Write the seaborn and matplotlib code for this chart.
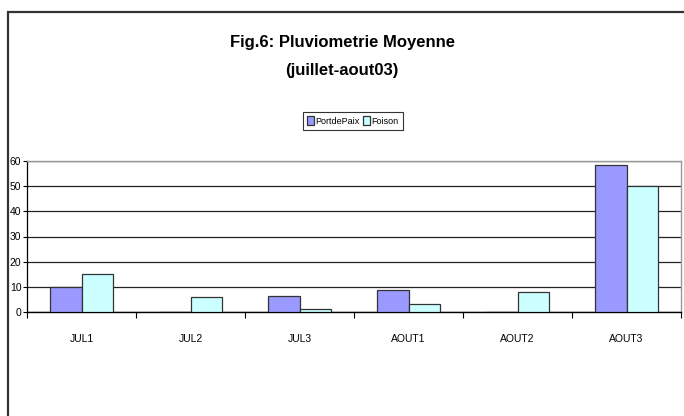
import numpy as np
import pandas as pd
import matplotlib
matplotlib.use("Agg")
import matplotlib.pyplot as plt
import seaborn as sns
from matplotlib.patches import Rectangle

# data
periods = ["JUL1", "JUL2", "JUL3", "AOUT1", "AOUT2", "AOUT3"]
portdepaix = [10.0, 0.0, 6.3, 8.8, 0.0, 58.4]
foison = [15.1, 5.8, 1.2, 3.2, 7.8, 50.0]
series_names = ["PortdePaix", "Foison"]
series_colors = ["#9999FF", "#CCFFFF"]
y_ticks = [0, 10, 20, 30, 40, 50, 60]

df = pd.DataFrame({
    "period": periods * 2,
    "value": portdepaix + foison,
    "serie": [series_names[0]] * len(periods) + [series_names[1]] * len(periods),
})

sns.set_style("white")
plt.rcParams["font.family"] = ["Liberation Sans Narrow", "Liberation Sans", "DejaVu Sans"]
plt.rcParams["text.color"] = "black"
plt.rcParams["xtick.color"] = "black"
plt.rcParams["ytick.color"] = "black"

fig = plt.figure(figsize=(6.84, 4.16), dpi=100)
fig.patch.set_facecolor("white")

# chart border (runs off the right and bottom edges)
fig.patches.append(Rectangle((7.5 / 684, -0.1), 1.2, 1 - 12 / 416 + 0.1,
                             transform=fig.transFigure, fill=False,
                             edgecolor="#333333", linewidth=1.6, zorder=0))

ax = fig.add_axes([27 / 684, 1 - 312 / 416, (681 - 27) / 684, (312 - 161) / 416])

sns.barplot(data=df, x="period", y="value", hue="serie", order=periods,
            hue_order=series_names, palette=series_colors, width=0.58,
            edgecolor="#333333", linewidth=0.9, saturation=1, ax=ax,
            legend=True, zorder=3)

ax.set_ylim(0, 60)
ax.set_xlim(-0.5, len(periods) - 0.5)
ax.set_yticks(y_ticks)
ax.yaxis.grid(True, color="#222222", linewidth=0.9, zorder=0)
ax.set_axisbelow(True)
ax.set_xlabel("")
ax.set_ylabel("")

for side in ["top", "right"]:
    ax.spines[side].set_color("#999999")
    ax.spines[side].set_linewidth(1.0)
ax.spines["left"].set_color("black")
ax.spines["left"].set_linewidth(0.9)
ax.spines["bottom"].set_color("black")
ax.spines["bottom"].set_linewidth(1.0)

ax.tick_params(axis="y", which="major", length=3, width=0.8, labelsize=7.5,
               pad=1, left=True, colors="black")
ax.tick_params(axis="x", which="major", length=0, labelsize=7.5, pad=16,
               labelcolor="black")
ax.set_xticks(np.arange(-0.5, len(periods)), minor=True)
ax.tick_params(axis="x", which="minor", length=4, width=0.8, bottom=True,
               direction="out", color="black")

# legend in a box under the title
handles, labels = ax.get_legend_handles_labels()
ax.get_legend().remove()
leg = fig.legend(handles, labels, loc="center", bbox_to_anchor=(353 / 684, 1 - 121 / 416),
                 ncol=2, frameon=True, fancybox=False, fontsize=6.5,
                 handlelength=0.7, handleheight=1.0, handletextpad=0.2,
                 columnspacing=0.4, borderpad=0.5, edgecolor="black",
                 labelcolor="black")
leg.get_frame().set_linewidth(0.8)

fig.text(342 / 684, 1 - 42 / 416, "Fig.6: Pluviometrie Moyenne", ha="center",
         va="center", fontsize=12, fontweight="bold", color="black")
fig.text(342 / 684, 1 - 70 / 416, "(juillet-aout03)", ha="center",
         va="center", fontsize=12, fontweight="bold", color="black")

fig.savefig("out.png", dpi=100, facecolor="white")
